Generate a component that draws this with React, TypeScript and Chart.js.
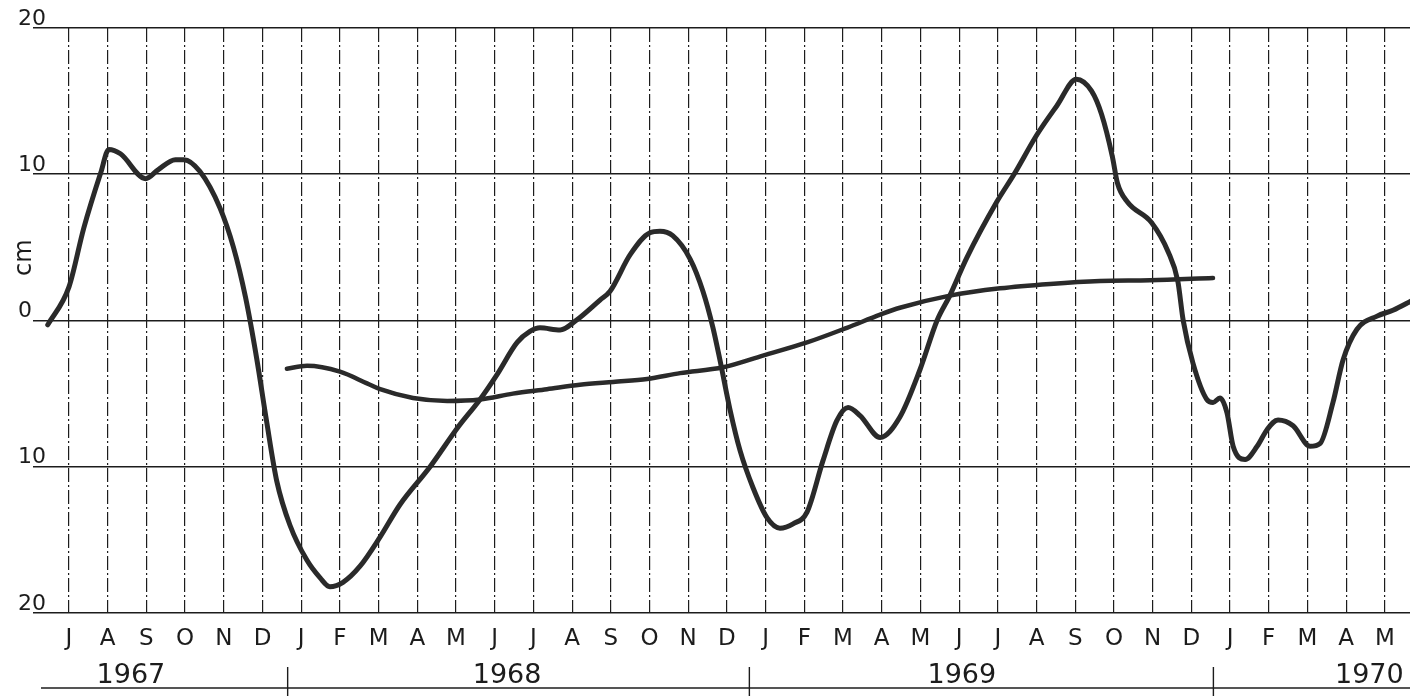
import React, { useEffect, useRef } from 'react';
import { Chart, registerables } from 'chart.js';

Chart.register(...registerables);

// Month ticks: index 0 = July 1967 ... index 34 = May 1970
const monthLabels = [
  'J', 'A', 'S', 'O', 'N', 'D',
  'J', 'F', 'M', 'A', 'M', 'J', 'J', 'A', 'S', 'O', 'N', 'D',
  'J', 'F', 'M', 'A', 'M', 'J', 'J', 'A', 'S', 'O', 'N', 'D',
  'J', 'F', 'M', 'A', 'M',
];
const yearLabels = ['1967', '1968', '1969', '1970'];
const yearPositions = [1.6, 11.32, 23.07, 33.6];
const yearSeparators = [5.65, 17.58, 29.57];

const yTickValues = [-20, -10, 0, 10, 20];
const yTickLabels = ['20', '10', '0', '10', '20'];

// Main (monthly-smoothed) curve, cm
const levelX = [
  -0.55, 0.0, 0.38, 0.82, 1.03, 1.33, 1.98, 2.3, 2.75, 2.97, 3.38, 3.9, 4.25, 4.56, 4.85,
  5.1, 5.37, 5.71, 6.15, 6.49, 6.74, 7.08, 7.52, 8.04, 8.55, 9.33, 10.05, 10.62,
  11.06, 11.58, 11.91, 12.17, 12.69, 13.1, 13.72, 13.98, 14.5, 15.01, 15.27, 15.6, 16.05,
  16.38, 16.64, 16.82, 17.08, 17.34, 17.67, 18.04, 18.37, 18.71, 19.07, 19.48, 19.84,
  20.13, 20.44, 20.96, 21.47, 21.99, 22.43, 22.76, 23.2, 23.97, 24.42, 25.01, 25.53,
  26.03, 26.42, 26.68, 26.96, 27.09, 27.35, 27.97, 28.4, 28.65, 28.79, 29.04, 29.4,
  29.56, 29.74, 29.92, 30.08, 30.39, 30.7, 30.96, 31.24, 31.63, 32.07, 32.33, 32.66,
  32.92, 33.28, 33.8, 34.21, 34.73,
];
const levelY = [
  -0.3, 2.3, 6.3, 10.1, 11.7, 11.4, 9.7, 10.3, 11.0, 11.0, 10.2, 7.7, 5.0, 1.6, -2.6,
  -6.8, -11.0, -14.0, -16.4, -17.6, -18.2, -17.9, -16.8, -14.8, -12.6, -10.0, -7.3, -5.4,
  -3.7, -1.5, -0.75, -0.5, -0.65, 0.0, 1.4, 2.0, 4.5, 6.0, 6.1, 5.8, 4.2,
  2.0, -0.5, -2.7, -6.1, -8.9, -11.4, -13.5, -14.2, -13.9, -13.1, -9.6, -6.85,
  -5.95, -6.5, -8.0, -6.6, -3.35, 0.0, 1.7, 4.3, 8.1, 10.0, 12.7, 14.7,
  16.5, 15.7, 14.1, 11.2, 9.4, 8.1, 6.7, 4.7, 2.7, 0.0, -2.9, -5.4,
  -5.6, -5.3, -6.3, -8.6, -9.5, -8.6, -7.45, -6.8, -7.2, -8.6, -8.4, -5.6,
  -2.7, -0.6, 0.3, 0.7, 1.4,
];

// Long-term trend curve, cm
const trendX = [
  5.63, 6.15, 7.0, 7.7, 8.04, 8.89, 9.77, 10.62, 11.47, 12.35, 13.2, 14.06, 14.94,
  15.79, 16.9, 17.93, 19.07, 20.1, 20.96, 21.47, 22.76, 24.06, 25.35, 26.64, 27.93, 29.56,
];
const trendY = [
  -3.3, -3.1, -3.5, -4.3, -4.7, -5.3, -5.5, -5.4, -5.0, -4.7, -4.4, -4.2, -4.0,
  -3.6, -3.2, -2.4, -1.5, -0.5, 0.4, 0.87, 1.7, 2.2, 2.5, 2.7, 2.75, 2.9,
];

const X_MIN = -0.93;
const X_MAX = 34.65;
const INK = '#1c1c1c';
const FONT = 'DejaVu Sans';

const decorPlugin = {
  id: 'decor',
  afterDraw(chart: any) {
    const { ctx, scales, chartArea } = chart;
    const xs = scales.x;
    const ys = scales.y;
    const x2 = scales.x2;
    ctx.save();
    // unit label "cm", rotated
    ctx.fillStyle = INK;
    ctx.font = `24px "${FONT}"`;
    ctx.textAlign = 'center';
    ctx.textBaseline = 'middle';
    ctx.translate(25, ys.getPixelForValue(4.3));
    ctx.rotate(-Math.PI / 2);
    ctx.fillText('cm', 0, 0);
    ctx.restore();

    // bottom year rule with separators
    ctx.save();
    ctx.strokeStyle = INK;
    ctx.lineWidth = 1.6;
    const yLine = x2.bottom - 8;
    ctx.beginPath();
    ctx.moveTo(chartArea.left + 8, yLine);
    ctx.lineTo(chartArea.right, yLine);
    ctx.stroke();
    ctx.lineWidth = 1.4;
    yearSeparators.forEach((v) => {
      const px = xs.getPixelForValue(v);
      ctx.beginPath();
      ctx.moveTo(px, yLine - 21);
      ctx.lineTo(px, yLine + 8);
      ctx.stroke();
    });
    ctx.restore();
  },
};

export default function App() {
  const canvasRef = useRef<HTMLCanvasElement | null>(null);

  useEffect(() => {
    if (!canvasRef.current) return;
    const levelData = levelX.map((x, i) => ({ x, y: levelY[i] }));
    const trendData = trendX.map((x, i) => ({ x, y: trendY[i] }));

    const chart = new Chart(canvasRef.current, {
      type: 'line',
      data: {
        datasets: [
          {
            label: 'level',
            data: levelData,
            borderColor: '#2a2a2a',
            borderWidth: 5,
            pointRadius: 0,
            cubicInterpolationMode: 'monotone',
            borderCapStyle: 'round',
            borderJoinStyle: 'round',
            fill: false,
          },
          {
            label: 'trend',
            data: trendData,
            borderColor: '#2a2a2a',
            borderWidth: 4.5,
            pointRadius: 0,
            cubicInterpolationMode: 'monotone',
            borderCapStyle: 'round',
            borderJoinStyle: 'round',
            fill: false,
          },
        ],
      },
      options: {
        animation: false,
        responsive: true,
        maintainAspectRatio: false,
        events: [],
        layout: { padding: { left: 0, right: 4, top: 28, bottom: 0 } },
        plugins: {
          legend: { display: false },
          tooltip: { enabled: false },
        },
        scales: {
          x: {
            type: 'linear',
            position: 'bottom',
            weight: 0,
            min: X_MIN,
            max: X_MAX,
            afterBuildTicks: (scale: any) => {
              scale.ticks = monthLabels.map((_, i) => ({ value: i }));
            },
            afterFit: (scale: any) => {
              scale.height = 38;
            },
            grid: {
              display: true,
              drawOnChartArea: true,
              drawTicks: false,
              color: INK,
              lineWidth: 1.2,
            },
            border: { display: false, dash: [14, 3, 2, 3] },
            ticks: {
              autoSkip: false,
              maxRotation: 0,
              minRotation: 0,
              padding: 12,
              color: INK,
              font: { family: FONT, size: 23 },
              callback: (value: any) => monthLabels[Math.round(Number(value))] ?? '',
            },
          },
          x2: {
            type: 'linear',
            position: 'bottom',
            weight: 1,
            min: X_MIN,
            max: X_MAX,
            afterBuildTicks: (scale: any) => {
              scale.ticks = yearPositions.map((v) => ({ value: v }));
            },
            afterFit: (scale: any) => {
              scale.height = 45;
            },
            grid: { display: false, drawTicks: false },
            border: { display: false },
            ticks: {
              autoSkip: false,
              maxRotation: 0,
              minRotation: 0,
              padding: 9,
              color: INK,
              font: { family: FONT, size: 27 },
              callback: (_v: any, i: number) => yearLabels[i] ?? '',
            },
          },
          y: {
            type: 'linear',
            min: -20,
            max: 20,
            afterBuildTicks: (scale: any) => {
              scale.ticks = yTickValues.map((v) => ({ value: v }));
            },
            afterFit: (scale: any) => {
              scale.width = 33;
            },
            grid: {
              display: true,
              drawTicks: false,
              color: INK,
              lineWidth: 1.6,
            },
            border: { display: false },
            ticks: {
              mirror: true,
              crossAlign: 'near',
              padding: -15,
              labelOffset: -9,
              color: INK,
              font: { family: FONT, size: 22 },
              callback: (_v: any, i: number) => yTickLabels[i] ?? '',
            },
          },
        },
      },
      plugins: [decorPlugin],
    });

    return () => {
      chart.destroy();
    };
  }, []);

  return (
    <div
      style={{
        position: 'fixed',
        left: 0,
        top: 0,
        width: 1414,
        height: 696,
        background: '#ffffff',
      }}
    >
      <canvas ref={canvasRef} />
    </div>
  );
}
